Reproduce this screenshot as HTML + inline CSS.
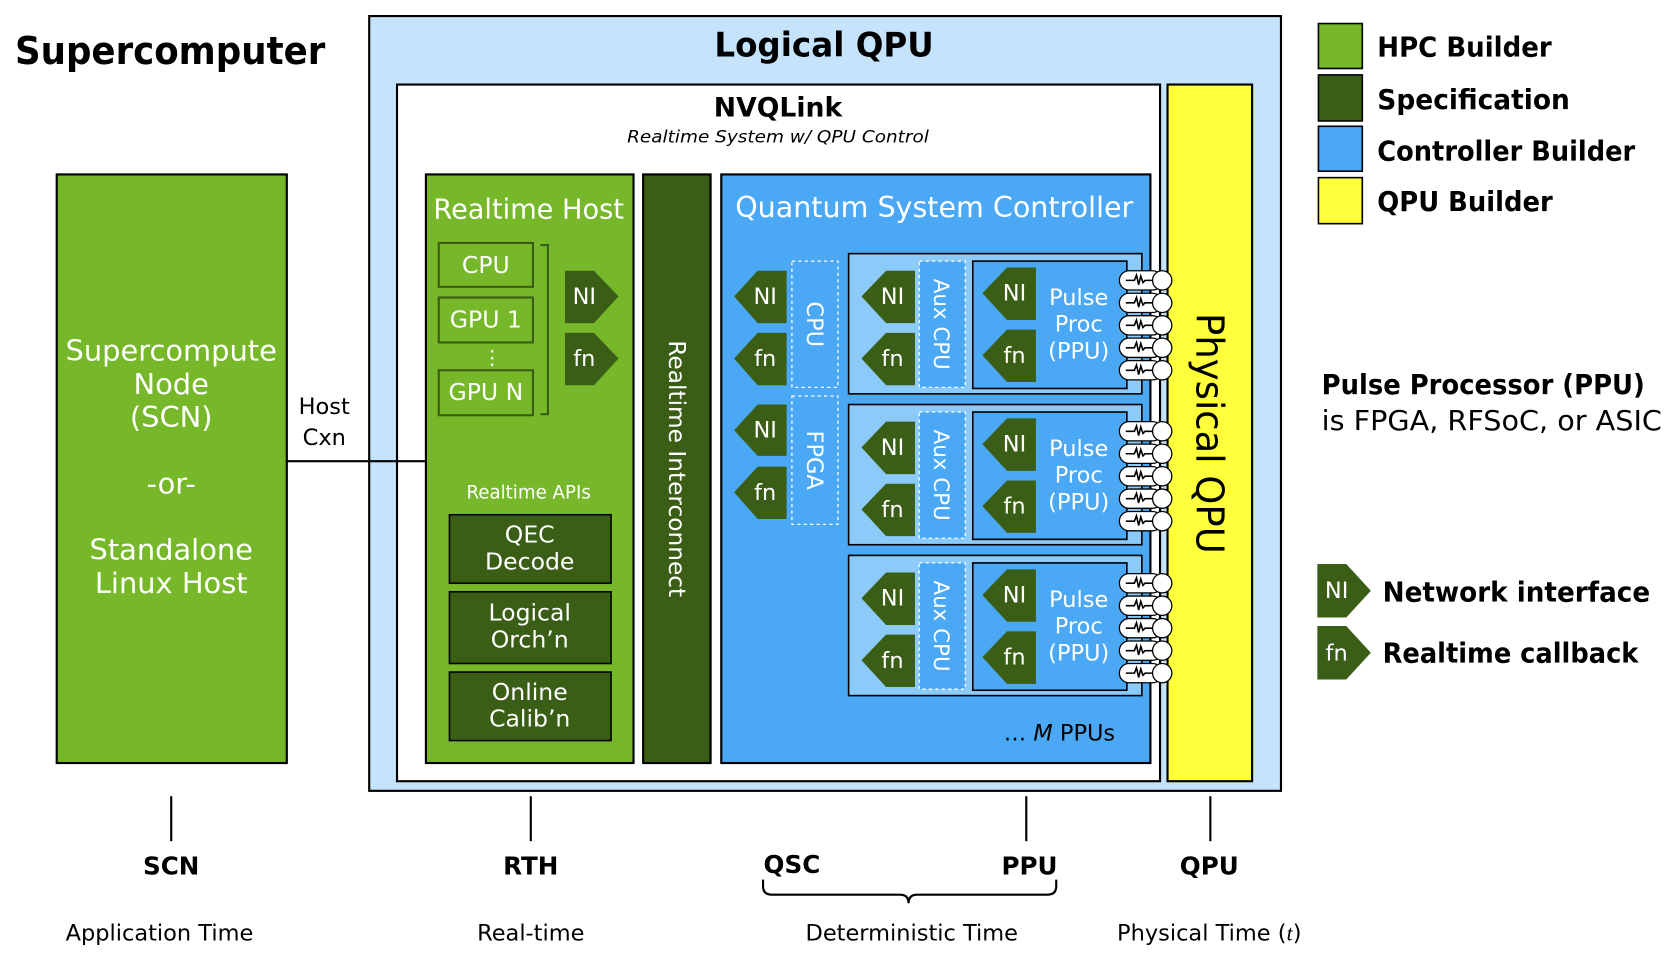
<!DOCTYPE html>
<html><head><meta charset="utf-8"><style>html,body{margin:0;padding:0;background:#fff}svg{display:block}</style></head>
<body>
<svg width="1678" height="954" viewBox="0 0 1568 891" preserveAspectRatio="xMinYMin meet" xmlns="http://www.w3.org/2000/svg" font-family="'DejaVu Sans','Liberation Sans',sans-serif">
<rect width="1568" height="891" fill="#fff"/>
<text x="14" y="60" font-size="36" font-weight="bold" textLength="290" lengthAdjust="spacingAndGlyphs">Supercomputer</text>

<!-- Logical QPU -->
<rect x="345" y="15" width="852" height="724" fill="#c5e3fb" stroke="#000" stroke-width="2"/>
<text x="770" y="53" font-size="32" font-weight="bold" text-anchor="middle" textLength="205" lengthAdjust="spacingAndGlyphs">Logical QPU</text>
<rect x="371" y="79" width="713" height="651" fill="#fff" stroke="#000" stroke-width="2"/>
<text x="727" y="109" font-size="25" font-weight="bold" text-anchor="middle" textLength="120" lengthAdjust="spacingAndGlyphs">NVQLink</text>
<text x="727" y="133" font-size="16" font-style="italic" text-anchor="middle" textLength="282" lengthAdjust="spacingAndGlyphs">Realtime System w/ QPU Control</text>

<!-- Physical QPU -->
<rect x="1091" y="79" width="79" height="651" fill="#ffff3c" stroke="#000" stroke-width="2"/>
<text transform="translate(1118,405) rotate(90)" font-size="36" text-anchor="middle" textLength="225" lengthAdjust="spacingAndGlyphs">Physical QPU</text>

<!-- SCN -->
<rect x="53" y="163" width="215" height="550" fill="#76b82a" stroke="#000" stroke-width="2"/>
<g fill="#fff" font-size="27" text-anchor="middle">
<text x="160" y="337">Supercompute</text>
<text x="160" y="368">Node</text>
<text x="160" y="399">(SCN)</text>
<text x="160" y="461">-or-</text>
<text x="160" y="523">Standalone</text>
<text x="160" y="554">Linux Host</text>
</g>
<line x1="268" y1="431" x2="398" y2="431" stroke="#000" stroke-width="2"/>
<text x="303" y="387" font-size="21" text-anchor="middle">Host</text>
<text x="303" y="416" font-size="21" text-anchor="middle">Cxn</text>

<!-- Realtime Host -->
<rect x="398" y="163" width="194" height="550" fill="#76b82a" stroke="#000" stroke-width="2"/>
<text x="494" y="204" font-size="26" fill="#fff" text-anchor="middle" textLength="178" lengthAdjust="spacingAndGlyphs">Realtime Host</text>
<g fill="none" stroke="#3a5e16" stroke-width="2">
<rect x="410" y="227" width="88" height="41"/>
<rect x="410" y="278" width="88" height="42"/>
<rect x="410" y="346" width="88" height="42"/>
<polyline points="505,229 512,229 512,387 505,387"/>
</g>
<g fill="#fff" font-size="22" text-anchor="middle">
<text x="454" y="255">CPU</text>
<text x="454" y="306">GPU 1</text>
<text x="460" y="340" font-size="18">⋮</text>
<text x="454" y="374">GPU N</text>
</g>
<g fill="#3a5e16">
<polygon points="528,253 555,253 578,277 555,302 528,302"/>
<polygon points="528,311 555,311 578,335 555,360 528,360"/>
</g>
<g fill="#fff" font-size="21" text-anchor="middle">
<text x="546" y="284">NI</text>
<text x="546" y="342">fn</text>
</g>
<text x="494" y="466" font-size="17" fill="#fff" text-anchor="middle">Realtime APIs</text>
<g fill="#3a5e16" stroke="#000" stroke-width="1.5">
<rect x="420" y="481" width="151" height="64"/>
<rect x="420" y="553" width="151" height="67"/>
<rect x="420" y="628" width="151" height="64"/>
</g>
<g fill="#fff" font-size="22" text-anchor="middle">
<text x="495" y="507">QEC</text><text x="495" y="532">Decode</text>
<text x="495" y="580">Logical</text><text x="495" y="605">Orch’n</text>
<text x="495" y="654">Online</text><text x="495" y="679">Calib’n</text>
</g>

<!-- Realtime Interconnect -->
<rect x="601" y="163" width="63" height="550" fill="#3a5e16" stroke="#000" stroke-width="2"/>
<text transform="translate(625,438) rotate(90)" font-size="22" fill="#fff" text-anchor="middle" textLength="240" lengthAdjust="spacingAndGlyphs">Realtime Interconnect</text>

<!-- QSC -->
<rect x="674" y="163" width="401" height="550" fill="#4aa8f5" stroke="#000" stroke-width="2"/>
<text x="873" y="203" font-size="27" fill="#fff" text-anchor="middle" textLength="372" lengthAdjust="spacingAndGlyphs">Quantum System Controller</text>
<g fill="#3a5e16">
<polygon points="735,253 708,253 686,277 708,302 735,302"/>
<polygon points="735,311 708,311 686,335 708,360 735,360"/>
<polygon points="735,378 708,378 686,402 708,426 735,426"/>
<polygon points="735,436 708,436 686,460 708,485 735,485"/>
</g>
<g fill="#fff" font-size="21" text-anchor="middle">
<text x="715" y="284">NI</text><text x="715" y="342">fn</text>
<text x="715" y="409">NI</text><text x="715" y="467">fn</text>
</g>
<g fill="none" stroke="#fff" stroke-width="1.2" stroke-dasharray="3,3">
<rect x="740" y="244" width="43" height="118"/>
<rect x="740" y="370" width="43" height="120"/>
</g>
<text transform="translate(754,303) rotate(90)" font-size="21" fill="#fff" text-anchor="middle">CPU</text>
<text transform="translate(754,430) rotate(90)" font-size="21" fill="#fff" text-anchor="middle">FPGA</text>

<!-- PPU blocks -->
<g id="b1">
<rect x="793" y="237" width="274" height="131" fill="#8ccbf9" stroke="#000" stroke-width="1.5"/>
<rect x="859" y="244" width="43" height="118" fill="#4aa8f5" stroke="#fff" stroke-width="1.2" stroke-dasharray="3,3"/>
<rect x="909" y="244" width="144" height="119" fill="#4aa8f5" stroke="#000" stroke-width="1.5"/>
<polygon points="855,253 828,253 805,277 828,302 855,302" fill="#3a5e16"/>
<polygon points="855,311 828,311 805,335 828,360 855,360" fill="#3a5e16"/>
<polygon points="968,250 941,250 918,274 941,299 968,299" fill="#3a5e16"/>
<polygon points="968,308 941,308 918,332 941,357 968,357" fill="#3a5e16"/>
<g fill="#fff" font-size="21" text-anchor="middle">
<text x="834" y="284">NI</text><text x="834" y="342">fn</text>
<text x="948" y="281">NI</text><text x="948" y="339">fn</text>
<text x="1008" y="285">Pulse</text><text x="1008" y="310">Proc</text><text x="1008" y="335">(PPU)</text>
</g>
<text transform="translate(873,303) rotate(90)" font-size="20" fill="#fff" text-anchor="middle">Aux CPU</text>
</g>
<use href="#b1" transform="translate(0,141)"/>
<use href="#b1" transform="translate(0,282)"/>

<!-- connectors -->
<g id="cs">
<g id="c1">
<rect x="1046" y="253" width="40" height="18" rx="9" fill="#fff" stroke="#000" stroke-width="1.2"/>
<circle cx="1086" cy="262" r="9" fill="#fff" stroke="#000" stroke-width="1.2"/>
<path d="M1052,262 h8 l2,-5 l2,9 l2,-8 l2,6 l2,-2 h7" fill="none" stroke="#000" stroke-width="1.5"/>
</g>
<use href="#c1" transform="translate(0,21)"/>
<use href="#c1" transform="translate(0,42)"/>
<use href="#c1" transform="translate(0,63)"/>
<use href="#c1" transform="translate(0,84)"/>
</g>
<use href="#cs" transform="translate(0,141)"/>
<use href="#cs" transform="translate(0,283)"/>

<text x="990" y="692" font-size="21" text-anchor="middle">… <tspan font-style="italic">M</tspan> PPUs</text>

<!-- bottom -->
<g stroke="#000" stroke-width="2">
<line x1="160" y1="744" x2="160" y2="786"/>
<line x1="496" y1="744" x2="496" y2="786"/>
<line x1="959" y1="744" x2="959" y2="786"/>
<line x1="1131" y1="744" x2="1131" y2="786"/>
</g>
<g font-size="23" font-weight="bold" text-anchor="middle">
<text x="160" y="817">SCN</text><text x="496" y="817">RTH</text>
<text x="740" y="816">QSC</text><text x="962" y="817">PPU</text><text x="1130" y="817">QPU</text>
</g>
<path d="M713,822 v6 q0,8 8,8 h120 q8,0 8,8 q0,-8 8,-8 h122 q8,0 8,-8 v-6" fill="none" stroke="#000" stroke-width="2"/>
<g font-size="21" text-anchor="middle">
<text x="149" y="879">Application Time</text>
<text x="496" y="879">Real-time</text>
<text x="852" y="879">Deterministic Time</text>
<text x="1130" y="879">Physical Time (<tspan font-family="'Liberation Serif',serif" font-style="italic">t</tspan>)</text>
</g>

<!-- legend -->
<g stroke="#000" stroke-width="1.5">
<rect x="1232" y="22" width="41" height="42" fill="#76b82a"/>
<rect x="1232" y="70" width="41" height="43" fill="#3a5e16"/>
<rect x="1232" y="118" width="41" height="42" fill="#4aa8f5"/>
<rect x="1232" y="166" width="41" height="43" fill="#ffff3c"/>
</g>
<g font-size="26" font-weight="bold">
<text x="1287" y="53" textLength="163" lengthAdjust="spacingAndGlyphs">HPC Builder</text>
<text x="1287" y="102" textLength="180" lengthAdjust="spacingAndGlyphs">Specification</text>
<text x="1287" y="150" textLength="241" lengthAdjust="spacingAndGlyphs">Controller Builder</text>
<text x="1287" y="197" textLength="164" lengthAdjust="spacingAndGlyphs">QPU Builder</text>
<text x="1235" y="368" textLength="302" lengthAdjust="spacingAndGlyphs">Pulse Processor (PPU)</text>
<text x="1292" y="562" textLength="250" lengthAdjust="spacingAndGlyphs">Network interface</text>
<text x="1292" y="619" textLength="239" lengthAdjust="spacingAndGlyphs">Realtime callback</text>
</g>
<text x="1235" y="402" font-size="26" textLength="318" lengthAdjust="spacingAndGlyphs">is FPGA, RFSoC, or ASIC</text>
<g fill="#3a5e16">
<polygon points="1231,527 1258,527 1281,552 1258,577 1231,577"/>
<polygon points="1231,585 1258,585 1281,610 1258,635 1231,635"/>
</g>
<g fill="#fff" font-size="21" text-anchor="middle">
<text x="1249" y="559">NI</text><text x="1249" y="617">fn</text>
</g>
</svg>
</body></html>
